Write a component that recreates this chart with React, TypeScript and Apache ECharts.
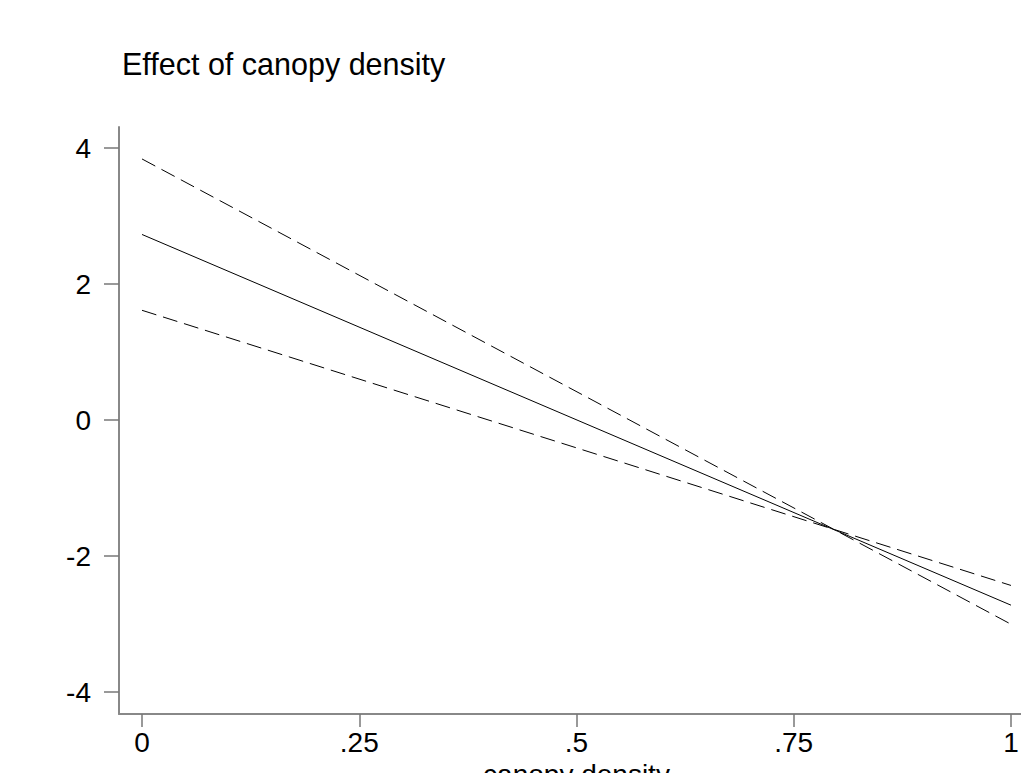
import React, { useEffect, useRef } from "react";
import * as echarts from "echarts";

const xValues = [0, 1];
const estimate = [2.73, -2.72];
const upperBand = [3.84, -3.0];
const lowerBand = [1.615, -2.43];
const xTicks = [0, 0.25, 0.5, 0.75, 1];
const xTickLabels = ["0", ".25", ".5", ".75", "1"];
const yTicks = [-4, -2, 0, 2, 4];

const FONT = "'Liberation Sans', Arial, Helvetica, sans-serif";

export default function App() {
  const ref = useRef<HTMLDivElement>(null);
  useEffect(() => {
    if (!ref.current) return;
    const chart = echarts.init(ref.current, null, { renderer: "svg", width: 1021, height: 773 });
    const pair = (ys: number[]) => xValues.map((x, i) => [x, ys[i]]);
    chart.setOption({
      animation: false,
      backgroundColor: "#fff",
      title: {
        text: "Effect of canopy density",
        left: 117,
        top: 43,
        textStyle: { fontFamily: FONT, fontSize: 30.5, fontWeight: "normal", color: "#000" },
      },
      grid: {
        left: 119,
        top: 127,
        bottom: 59,
        right: -13,
        containLabel: false,
        outerBoundsMode: "none",
      },
      xAxis: {
        type: "value",
        min: -0.0265,
        max: 1.0265,
        name: "canopy density",
        nameLocation: "middle",
        nameGap: 43,
        nameTextStyle: { fontFamily: FONT, fontSize: 28, color: "#000" },
        axisLine: { show: true, onZero: false, lineStyle: { color: "#888", width: 2 } },
        axisTick: { show: true, length: 13, customValues: xTicks, lineStyle: { color: "#777", width: 1.5 } },
        axisLabel: {
          customValues: xTicks,
          margin: 14,
          fontFamily: FONT,
          fontSize: 28,
          color: "#000",
          formatter: (v: number) => {
            const i = xTicks.findIndex((t) => Math.abs(t - v) < 1e-9);
            return i >= 0 ? xTickLabels[i] : "";
          },
        },
        splitLine: { show: false },
      },
      yAxis: {
        type: "value",
        min: -4.32,
        max: 4.31,
        axisLine: { show: true, onZero: false, lineStyle: { color: "#888", width: 2 } },
        axisTick: { show: true, length: 15, customValues: yTicks, lineStyle: { color: "#777", width: 1.5 } },
        axisLabel: {
          customValues: yTicks,
          margin: 28,
          fontFamily: FONT,
          fontSize: 28,
          color: "#000",
          formatter: (v: number) => String(Math.round(v)),
        },
        splitLine: { show: false },
      },
      series: [
        { type: "line", data: pair(upperBand), showSymbol: false, lineStyle: { color: "#000", width: 1, type: [15, 7] } },
        { type: "line", data: pair(estimate), showSymbol: false, lineStyle: { color: "#000", width: 1 } },
        { type: "line", data: pair(lowerBand), showSymbol: false, lineStyle: { color: "#000", width: 1, type: [15, 7] } },
      ],
    });
    return () => chart.dispose();
  }, []);
  return (
    <div
      ref={ref}
      style={{ position: "fixed", left: 0, top: 0, width: 1021, height: 773, overflow: "hidden", background: "#fff" }}
    />
  );
}
